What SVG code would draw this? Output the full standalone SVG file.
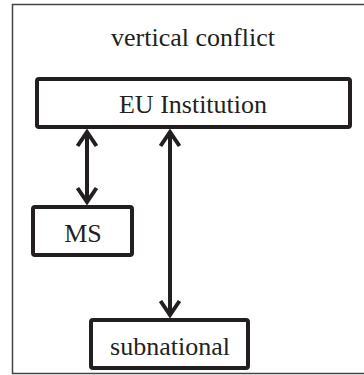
<svg xmlns="http://www.w3.org/2000/svg" width="364" height="375" viewBox="0 0 364 375">
<style>
.box{fill:#fff;stroke:#231f20;stroke-width:4}
.lbl{font-family:"Liberation Serif","Times New Roman",serif;font-size:26px;fill:#231f20;text-anchor:middle}
.conn{stroke:#231f20;stroke-width:4;fill:none}
</style>
<defs>
<marker id="ah" viewBox="-18 -13 22 26" refX="0" refY="0" markerWidth="22" markerHeight="26" markerUnits="userSpaceOnUse" orient="auto-start-reverse">
<path d="M-14,-9.5 L0,0 L-14,9.5" fill="none" stroke="#231f20" stroke-width="4" stroke-linejoin="miter" stroke-linecap="butt"/>
</marker>
</defs>
<rect width="364" height="375" fill="#fff"/>
<path d="M370,4.5 H12.5 V373.5 H370" fill="none" stroke="#444" stroke-width="1.5"/>
<g id="title"><text class="lbl" x="193" y="46">vertical conflict</text></g>
<g id="connectors">
<line class="conn" x1="87" y1="132" x2="87" y2="202" marker-start="url(#ah)" marker-end="url(#ah)"/>
<line class="conn" x1="170" y1="132" x2="170" y2="315" marker-start="url(#ah)" marker-end="url(#ah)"/>
</g>
<g id="eu"><rect class="box" x="37" y="79" width="313" height="48" rx="2"/><text class="lbl" x="193" y="113">EU Institution</text></g>
<g id="ms"><rect class="box" x="33" y="207" width="99" height="48" rx="2"/><text class="lbl" x="83" y="242">MS</text></g>
<g id="subnational"><rect class="box" x="91" y="320" width="157" height="48" rx="2"/><text class="lbl" x="170" y="355">subnational</text></g>
</svg>
